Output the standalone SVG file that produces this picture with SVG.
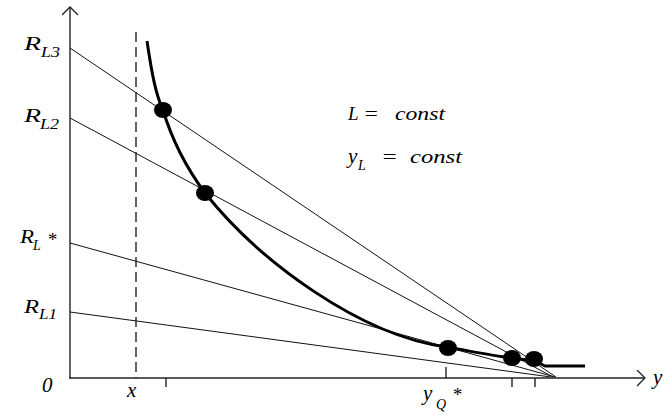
<svg xmlns="http://www.w3.org/2000/svg" width="666" height="414" viewBox="0 0 666 414">
<style>
.ax{stroke:#222;stroke-width:1.4;fill:none}
.ln{stroke:#111;stroke-width:1;fill:none}
.cv{stroke:#000;stroke-width:3;fill:none;stroke-linejoin:round}
.dot{fill:#000}
.t{font-family:"Liberation Serif","Times New Roman",serif;font-style:italic;fill:#000}
.m{font-size:19px}
.s{font-size:14px}
</style>
<defs>
<marker id="ah" markerWidth="12" markerHeight="18" refX="9" refY="8" orient="auto" markerUnits="userSpaceOnUse">
<polyline points="1,0 9,8 1,16" fill="none" stroke="#222" stroke-width="1.3"/>
</marker>
</defs>
<g id="axes">
<line class="ax" x1="70" y1="378" x2="70" y2="7" marker-end="url(#ah)"/>
<line class="ax" x1="69" y1="378" x2="645" y2="378" marker-end="url(#ah)"/>
<line class="ax" x1="166" y1="378" x2="166" y2="387"/>
<line class="ax" x1="446" y1="367" x2="446" y2="378"/>
<line class="ax" x1="512" y1="378" x2="512" y2="387"/>
<line class="ax" x1="535" y1="378" x2="535" y2="387"/>
<line class="ax" x1="136" y1="32" x2="136" y2="378" stroke-dasharray="10,5"/>
</g>
<g id="connectors">
<line class="ln" x1="70" y1="48" x2="556" y2="377"/>
<line class="ln" x1="70" y1="118" x2="553" y2="377"/>
<line class="ln" x1="70" y1="243" x2="555" y2="377"/>
<line class="ln" x1="70" y1="312" x2="551" y2="377"/>
</g>
<g id="curve">
<path class="cv" d="M147,41 C152,75 156,95 163,110 C172,140 188,170 205,193 C260,262 360,335 446,347 C475,352 495,356 512,358 L535,361 L545,366 L585,366"/>
</g>
<g id="dots">
<ellipse class="dot" cx="163" cy="110" rx="9" ry="8"/>
<ellipse class="dot" cx="205" cy="193" rx="9" ry="8"/>
<ellipse class="dot" cx="448" cy="348" rx="9" ry="8"/>
<ellipse class="dot" cx="512" cy="358" rx="9" ry="8"/>
<ellipse class="dot" cx="534" cy="359" rx="9" ry="8"/>
</g>
<g id="labels">
<text class="t m" x="24" y="50" textLength="17" lengthAdjust="spacingAndGlyphs">R</text><text class="t s" x="41" y="57" textLength="19" lengthAdjust="spacingAndGlyphs">L3</text>
<text class="t m" x="24" y="122" textLength="17" lengthAdjust="spacingAndGlyphs">R</text><text class="t s" x="40" y="129" textLength="19" lengthAdjust="spacingAndGlyphs">L2</text>
<text class="t m" x="20" y="243" textLength="14" lengthAdjust="spacingAndGlyphs">R</text><text class="t s" x="33" y="250">L</text><text class="t m" x="47" y="246">*</text>
<text class="t m" x="24" y="313" textLength="15" lengthAdjust="spacingAndGlyphs">R</text><text class="t s" x="39" y="319" textLength="18" lengthAdjust="spacingAndGlyphs">L1</text>
<text class="t" x="42" y="392" font-size="21">0</text>
<text class="t" x="127" y="397" font-size="21">x</text>
<text class="t" x="423" y="400" font-size="21">y</text><text class="t s" x="436" y="409">Q</text><text class="t m" x="452" y="401">*</text>
<text class="t" x="653" y="384" font-size="21">y</text>
<text class="t m" x="348" y="120">L</text><text class="t m" x="363" y="120" textLength="16" lengthAdjust="spacingAndGlyphs">=</text><text class="t m" x="395" y="120" textLength="50" lengthAdjust="spacingAndGlyphs">const</text>
<text class="t" x="348" y="163" font-size="21">y</text><text class="t s" x="358" y="170">L</text><text class="t m" x="381" y="163" textLength="17" lengthAdjust="spacingAndGlyphs">=</text><text class="t m" x="410" y="163" textLength="52" lengthAdjust="spacingAndGlyphs">const</text>
</g>
</svg>
